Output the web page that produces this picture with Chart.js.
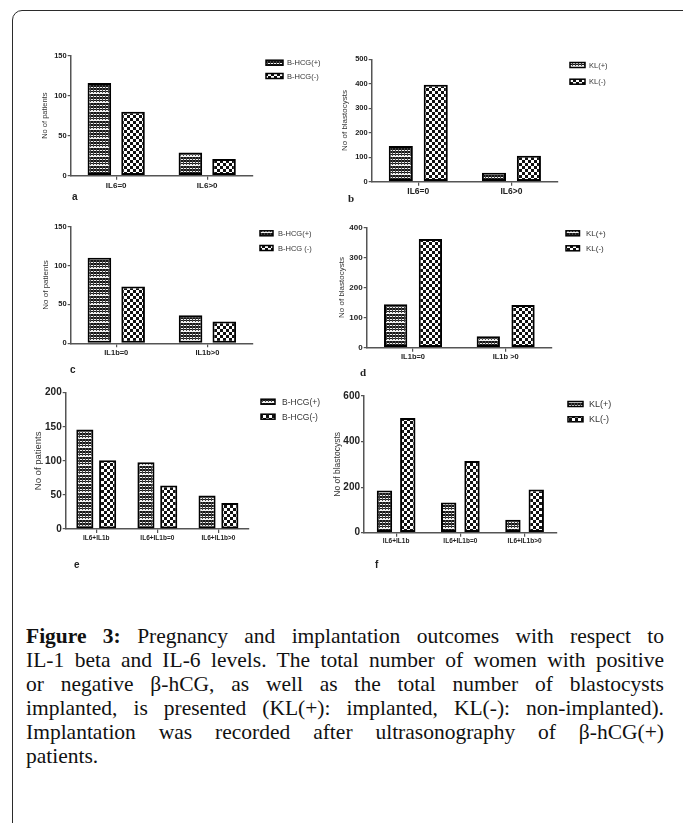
<!DOCTYPE html>
<html><head><meta charset="utf-8">
<script src="https://cdn.jsdelivr.net/npm/chart.js@4.4.0/dist/chart.umd.min.js"></script>
<style>
html,body{margin:0;padding:0;background:#fff;width:683px;height:823px;overflow:hidden;position:relative}
.frame{position:absolute;left:12px;top:10px;width:700px;height:900px;border:1.5px solid #2b2b2b;border-radius:10px;box-sizing:border-box}
canvas{position:absolute}
.lt{position:absolute;font-family:"Liberation Sans",Arial,sans-serif;font-weight:bold;font-size:10px;color:#222;line-height:10px}
.lt.s{font-family:"Liberation Serif",serif;font-size:11px}
.cap{position:absolute;left:26px;top:624px;width:638px;font-family:"Liberation Serif","Times New Roman",serif;font-size:21.5px;line-height:24px;color:#111}
.cap div{text-align:justify;text-align-last:justify}
.cap div.last{text-align-last:left}
</style></head>
<body>
<div class="frame"></div>
<canvas id="ca"></canvas><canvas id="cb"></canvas><canvas id="cc"></canvas>
<canvas id="cd"></canvas><canvas id="ce"></canvas><canvas id="cf"></canvas>
<div class="lt" style="left:72px;top:192px">a</div>
<div class="lt s" style="left:348px;top:193px">b</div>
<div class="lt" style="left:70px;top:365px">c</div>
<div class="lt s" style="left:360px;top:367px">d</div>
<div class="lt" style="left:74px;top:560px">e</div>
<div class="lt" style="left:375px;top:560px">f</div>
<div class="cap">
<div><b>Figure 3:</b> Pregnancy and implantation outcomes with respect to</div>
<div>IL-1 beta and IL-6 levels. The total number of women with positive</div>
<div>or negative β-hCG, as well as the total number of blastocysts</div>
<div>implanted, is presented (KL(+): implanted, KL(-): non-implanted).</div>
<div>Implantation was recorded after ultrasonography of β-hCG(+)</div>
<div class="last">patients.</div>
</div>
<script>
// ---- data ----
const catsA = ['IL6=0', 'IL6>0'];
const hcgPosA = [116, 29];
const hcgNegA = [80, 21];
const ticksA = [0, 50, 100, 150];
const legendA = ['B-HCG(+)', 'B-HCG(-)'];

const catsB = ['IL6=0', 'IL6>0'];
const klPosB = [146, 37];
const klNegB = [396, 106];
const ticksB = [0, 100, 200, 300, 400, 500];
const legendB = ['KL(+)', 'KL(-)'];

const catsC = ['IL1b=0', 'IL1b>0'];
const hcgPosC = [110, 36];
const hcgNegC = [73, 28];
const ticksC = [0, 50, 100, 150];
const legendC = ['B-HCG(+)', 'B-HCG (-)'];

const catsD = ['IL1b=0', 'IL1b >0'];
const klPosD = [144, 38];
const klNegD = [361, 142];
const ticksD = [0, 100, 200, 300, 400];
const legendD = ['KL(+)', 'KL(-)'];

const catsE = ['IL6+IL1b', 'IL6+IL1b=0', 'IL6+IL1b>0'];
const hcgPosE = [146, 98, 49];
const hcgNegE = [101, 64, 38];
const ticksE = [0, 50, 100, 150, 200];
const legendE = ['B-HCG(+)', 'B-HCG(-)'];

const catsF = ['IL6+IL1b', 'IL6+IL1b=0', 'IL6+IL1b>0'];
const klPosF = [185, 133, 57];
const klNegF = [503, 315, 190];
const ticksF = [0, 200, 400, 600];
const legendF = ['KL(+)', 'KL(-)'];

const titlePatients = 'No of patients';
const titleBlasto = 'No of blastocysts';

// ---- patterns ----
function patPlus() {
  const c = document.createElement('canvas'); c.width = 3; c.height = 9;
  const x = c.getContext('2d');
  x.fillStyle = '#f2f2f2'; x.fillRect(0, 0, 3, 9);
  x.fillStyle = '#161616';
  x.fillRect(0, 0, 2, 2); x.fillRect(0, 3, 2, 2); x.fillRect(0, 6, 2, 1);
  x.fillStyle = '#444'; x.fillRect(2, 0, 1, 8);
  return x.createPattern(c, 'repeat');
}
function patMinus() {
  const c = document.createElement('canvas'); c.width = 6; c.height = 6;
  const x = c.getContext('2d');
  x.fillStyle = '#fff'; x.fillRect(0, 0, 6, 6);
  x.fillStyle = '#111'; x.fillRect(0, 0, 3, 3); x.fillRect(3, 3, 3, 3);
  return x.createPattern(c, 'repeat');
}
const PP = patPlus(), PM = patMinus();

const FF = '"Liberation Sans", Arial, sans-serif';

const legendPlugin = {
  id: 'boxLegend',
  afterDraw(chart, args, o) {
    const ctx = chart.ctx; ctx.save();
    chart.data.datasets.forEach((ds, i) => {
      const y = o.ys[i];
      ctx.fillStyle = ds.backgroundColor;
      ctx.fillRect(o.x, y - o.h / 2, o.w, o.h);
      ctx.strokeStyle = '#000'; ctx.lineWidth = 1.5;
      ctx.strokeRect(o.x, y - o.h / 2, o.w, o.h);
      ctx.fillStyle = '#333';
      ctx.font = o.size + 'px ' + FF;
      ctx.textBaseline = 'middle'; ctx.textAlign = 'left';
      ctx.fillText(ds.label, o.tx, y + 0.5);
    });
    ctx.restore();
  }
};

function makePanel(p) {
  const cv = document.getElementById(p.id);
  cv.width = p.cw; cv.height = p.ch;
  cv.style.left = p.cx + 'px'; cv.style.top = p.cy + 'px';
  const yW = p.L - p.cx, xH = (p.cy + p.ch) - p.B;
  const titleLH = p.titleSize * 1.2;
  new Chart(cv, {
    type: 'bar',
    data: {
      labels: p.cats,
      datasets: [
        { label: p.legend[0], data: p.s1, backgroundColor: PP, borderColor: '#000', borderWidth: 2, borderSkipped: false,
          categoryPercentage: p.catPct, barPercentage: p.barPct },
        { label: p.legend[1], data: p.s2, backgroundColor: PM, borderColor: '#000', borderWidth: 2, borderSkipped: false,
          categoryPercentage: p.catPct, barPercentage: p.barPct }
      ]
    },
    options: {
      responsive: false, animation: false, devicePixelRatio: 1,
      layout: { padding: { top: p.T - p.cy, right: (p.cx + p.cw) - p.R, left: 0, bottom: 0 } },
      plugins: {
        legend: { display: false }, tooltip: { enabled: false },
        boxLegend: { x: p.lg.x - p.cx, w: p.lg.w, h: p.lg.h, ys: p.lg.ys.map(v => v - p.cy), tx: p.lg.tx - p.cx, size: p.lg.size }
      },
      scales: {
        x: {
          type: 'category',
          afterFit: s => { s.height = xH; },
          grid: { display: true, offset: false, drawOnChartArea: false, tickLength: 4, color: '#555', lineWidth: 1.2 },
          border: { display: true, color: '#555', width: 1.5 },
          ticks: { color: '#222', padding: 1, font: { family: FF, size: p.xSize, weight: 'bold' }, maxRotation: 0, autoSkip: false }
        },
        y: {
          type: 'linear', min: p.ticks[0], max: p.ticks[p.ticks.length - 1],
          afterFit: s => { s.width = yW; },
          afterBuildTicks: s => { s.ticks = p.ticks.map(v => ({ value: v })); },
          grid: { display: true, drawOnChartArea: false, tickLength: 3, color: '#555', lineWidth: 1.2 },
          border: { display: true, color: '#555', width: 1.5 },
          ticks: { color: '#222', padding: 1, font: { family: FF, size: p.ySize, weight: 'bold' } },
          title: { display: true, text: p.title, color: '#333', font: { family: FF, size: p.titleSize },
                   padding: { top: (p.titleX - p.cx) - titleLH / 2, bottom: 0 } }
        }
      }
    },
    plugins: [legendPlugin]
  });
}

makePanel({ id: 'ca', cx: 28, cy: 40, cw: 308, ch: 170, L: 70.7, R: 252.7, T: 55.7, B: 175.7,
  cats: catsA, s1: hcgPosA, s2: hcgNegA, ticks: ticksA, legend: legendA, title: titlePatients,
  catPct: 0.74, barPct: 0.70, xSize: 8, ySize: 7.5, titleSize: 7.5, titleX: 45,
  lg: { x: 266, w: 17, h: 5, ys: [62.7, 76], tx: 287, size: 7.5 } });

makePanel({ id: 'cb', cx: 336, cy: 40, cw: 340, ch: 170, L: 371.7, R: 558, T: 59.3, B: 181.7,
  cats: catsB, s1: klPosB, s2: klNegB, ticks: ticksB, legend: legendB, title: titleBlasto,
  catPct: 0.75, barPct: 0.69, xSize: 8.5, ySize: 7.5, titleSize: 8, titleX: 345,
  lg: { x: 570, w: 15, h: 5, ys: [65, 81.7], tx: 589, size: 7.5 } });

makePanel({ id: 'cc', cx: 28, cy: 215, cw: 308, ch: 170, L: 70.7, R: 253, T: 226.7, B: 343.3,
  cats: catsC, s1: hcgPosC, s2: hcgNegC, ticks: ticksC, legend: legendC, title: titlePatients,
  catPct: 0.74, barPct: 0.70, xSize: 7.5, ySize: 7.5, titleSize: 8, titleX: 46,
  lg: { x: 260, w: 13, h: 5, ys: [233.3, 248], tx: 278, size: 7.5 } });

makePanel({ id: 'cd', cx: 330, cy: 215, cw: 346, ch: 170, L: 366.7, R: 552, T: 227.3, B: 347.7,
  cats: catsD, s1: klPosD, s2: klNegD, ticks: ticksD, legend: legendD, title: titleBlasto,
  catPct: 0.75, barPct: 0.67, xSize: 7.5, ySize: 8, titleSize: 8, titleX: 342,
  lg: { x: 566, w: 13.5, h: 5, ys: [233.3, 248.3], tx: 586, size: 8 } });

makePanel({ id: 'ce', cx: 26, cy: 385, cw: 310, ch: 195, L: 65.7, R: 249, T: 392.7, B: 529,
  cats: catsE, s1: hcgPosE, s2: hcgNegE, ticks: ticksE, legend: legendE, title: titlePatients,
  catPct: 0.746, barPct: 0.75, xSize: 6.5, ySize: 10, titleSize: 9.5, titleX: 38,
  lg: { x: 261, w: 14, h: 5, ys: [401.7, 416.7], tx: 282, size: 8.5 } });

makePanel({ id: 'cf', cx: 326, cy: 385, cw: 350, ch: 195, L: 364, R: 556.7, T: 396, B: 532.7,
  cats: catsF, s1: klPosF, s2: klNegF, ticks: ticksF, legend: legendF, title: titleBlasto,
  catPct: 0.726, barPct: 0.66, xSize: 6.5, ySize: 10, titleSize: 8.5, titleX: 338,
  lg: { x: 568, w: 15, h: 5, ys: [404, 419.3], tx: 589, size: 9 } });
</script>
</body></html>
